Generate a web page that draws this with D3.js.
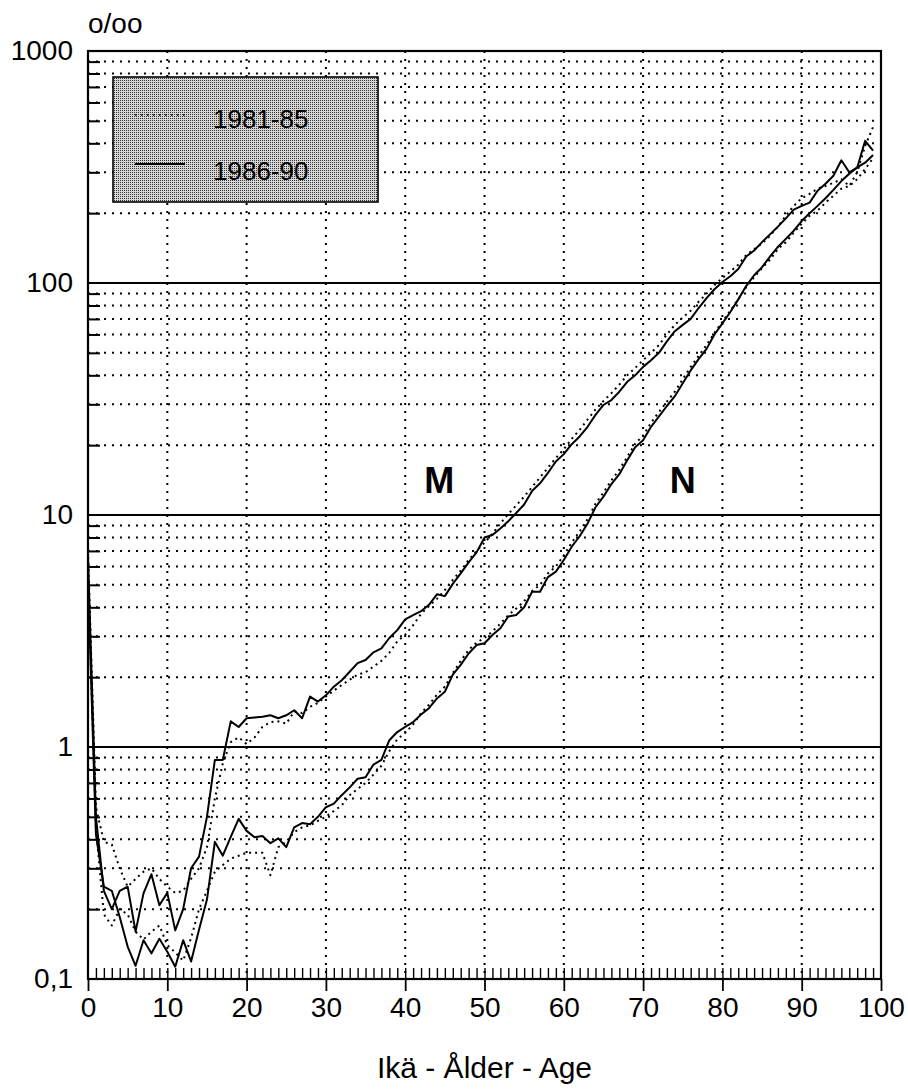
<!DOCTYPE html>
<html>
<head>
<meta charset="utf-8">
<script src="https://cdn.jsdelivr.net/npm/d3@7"></script>
<style>
  html, body { margin: 0; padding: 0; background: #fff; }
  svg { display: block; font-family: "Liberation Sans", Arial, Helvetica, sans-serif; }
</style>
</head>
<body>
<svg id="chart" width="908" height="1091"></svg>
<script>
// ---- data (per-mille mortality by age) ----
const ages = d3.range(0, 100);

const m8185 = [7.0,0.55,0.39,0.38,0.30,0.25,0.27,0.29,0.30,0.27,
  0.25,0.235,0.24,0.27,0.30,0.37,0.60,0.85,1.05,1.10,
  1.03,1.10,1.22,1.28,1.29,1.26,1.42,1.40,1.49,1.55,
  1.65,1.75,1.85,1.95,2.05,2.10,2.22,2.35,2.55,2.85,
  3.05,3.35,3.75,4.05,4.35,4.75,5.25,5.75,6.40,7.00,
  7.60,8.30,9.20,10.1,11.0,12.0,13.2,14.5,16.0,17.6,
  19.2,21.3,23.3,25.8,28.5,31.0,33.5,36.5,40.0,43.0,
  46.5,50.0,54.0,60.0,66.0,71.0,76.0,83.0,90.0,98.0,
  105,112,120,132,140,148,160,175,195,215,
  232,242,255,262,270,280,262,300,390,470];

const m8690 = [6.6,0.50,0.24,0.20,0.24,0.25,0.16,0.234,0.283,0.208,
  0.235,0.162,0.20,0.30,0.337,0.50,0.88,0.88,1.29,1.22,
  1.33,1.34,1.35,1.37,1.33,1.37,1.44,1.33,1.65,1.57,
  1.67,1.82,1.94,2.11,2.30,2.37,2.56,2.66,2.95,3.19,
  3.55,3.70,3.85,4.10,4.55,4.47,5.05,5.60,6.25,6.90,
  8.00,8.20,8.75,9.40,10.2,11.1,12.7,13.7,15.2,17.0,
  18.3,20.2,21.8,24.0,27.0,29.8,31.3,34.0,37.5,40.0,
  43.5,46.5,50.0,56.0,62.0,66.0,70.0,78.0,86.0,94.0,
  101,107,115,130,138,150,162,175,190,207,
  215,222,250,268,290,338,300,314,410,372];

const n8185 = [5.6,0.45,0.19,0.17,0.20,0.19,0.16,0.148,0.16,0.17,
  0.14,0.13,0.12,0.15,0.20,0.24,0.29,0.31,0.33,0.34,
  0.35,0.35,0.35,0.28,0.37,0.39,0.43,0.45,0.46,0.48,
  0.50,0.53,0.56,0.62,0.66,0.70,0.76,0.83,0.96,1.08,
  1.15,1.25,1.40,1.52,1.68,1.82,2.08,2.35,2.62,2.82,
  2.95,3.15,3.40,3.70,3.95,4.25,4.70,5.00,5.60,6.00,
  6.70,7.60,8.50,9.60,11.2,12.5,14.1,15.7,17.8,20.3,
  22.0,25.0,27.8,30.8,34.0,38.5,43.5,48.5,54.0,61.0,
  68.0,76.0,85.0,96.0,106,116,126,140,150,165,
  180,195,205,222,238,255,262,280,310,345];

const n8690 = [5.3,0.42,0.25,0.24,0.185,0.138,0.114,0.147,0.129,0.149,
  0.131,0.113,0.147,0.119,0.163,0.22,0.39,0.34,0.41,0.49,
  0.435,0.408,0.413,0.385,0.404,0.37,0.45,0.47,0.465,0.50,
  0.55,0.57,0.62,0.67,0.73,0.74,0.84,0.88,1.07,1.16,
  1.22,1.28,1.38,1.47,1.62,1.73,2.05,2.26,2.53,2.75,
  2.80,3.04,3.25,3.65,3.71,4.00,4.67,4.67,5.40,5.70,
  6.40,7.30,8.10,9.20,10.8,12.0,13.6,15.0,17.2,19.6,
  21.0,24.0,26.6,29.5,32.5,37.0,42.0,47.0,52.0,60.0,
  67.0,75.0,85.0,97.0,108,117,130,143,155,168,
  185,200,215,232,252,275,296,315,330,356];

const xTicks = [0,10,20,30,40,50,60,70,80,90,100];
const yMajor = [0.1,1,10,100,1000];
const yLabels = ["0,1","1","10","100","1000"];
const legendLabels = ["1981-85","1986-90"];
const sexLabels = [{t:"M", age:44.3, v:12.4},{t:"N", age:75.0, v:12.4}];

// ---- layout ----
const svg = d3.select("#chart");
const L = 88, R = 881, T = 51, B = 979;
const x = d3.scaleLinear().domain([0,100]).range([L,R]);
const y = d3.scaleLog().domain([0.1,1000]).range([B,T]);

const minorY = [];
[0.1,1,10,100].forEach(d => { for (let m=2;m<=9;m++) minorY.push(d*m); });

// dotted minor horizontal grid
svg.append("g").selectAll("line").data(minorY).join("line")
  .attr("x1", L).attr("x2", R)
  .attr("y1", d => y(d)).attr("y2", d => y(d))
  .attr("stroke", "#000").attr("stroke-width", 2)
  .attr("stroke-dasharray", "2,6");

// dotted vertical grid
svg.append("g").selectAll("line").data(xTicks.slice(1,-1)).join("line")
  .attr("x1", d => x(d)).attr("x2", d => x(d))
  .attr("y1", T).attr("y2", B)
  .attr("stroke", "#000").attr("stroke-width", 2)
  .attr("stroke-dasharray", "2,6");

// solid major horizontal lines
svg.append("g").selectAll("line").data([1,10,100]).join("line")
  .attr("x1", L).attr("x2", R)
  .attr("y1", d => y(d)).attr("y2", d => y(d))
  .attr("stroke", "#000").attr("stroke-width", 2.2);

// left minor ticks
const gMinorL = svg.append("g").attr("transform", `translate(${L},0)`)
  .call(d3.axisRight(y).tickValues(minorY).tickSize(12).tickFormat(""));
gMinorL.select(".domain").remove();
gMinorL.selectAll("line").attr("stroke-width", 2);

// bottom minor ticks (every year, upward)
const gMinorB = svg.append("g").attr("transform", `translate(0,${B})`)
  .call(d3.axisTop(x).tickValues(d3.range(1,100)).tickSize(11).tickFormat(""));
gMinorB.select(".domain").remove();
gMinorB.selectAll("line").attr("stroke-width", 1.4);

// bottom axis
const gX = svg.append("g").attr("transform", `translate(0,${B})`)
  .call(d3.axisBottom(x).tickValues(xTicks).tickSize(12).tickPadding(6).tickFormat(d3.format("d")));
gX.select(".domain").remove();
gX.selectAll("line").attr("stroke-width", 1.8);
gX.selectAll("text").attr("font-size", 28).attr("fill", "#000")
  .attr("font-family", "'Liberation Sans', Arial, sans-serif");

// left axis labels
const gY = svg.append("g").attr("transform", `translate(${L},0)`)
  .call(d3.axisLeft(y).tickValues(yMajor).tickSize(0).tickPadding(15)
    .tickFormat((d,i) => yLabels[i]));
gY.select(".domain").remove();
gY.selectAll("text").attr("font-size", 28).attr("fill", "#000")
  .attr("font-family", "'Liberation Sans', Arial, sans-serif");

// frame
svg.append("rect").attr("x", L).attr("y", T).attr("width", R-L).attr("height", B-T)
  .attr("fill", "none").attr("stroke", "#000").attr("stroke-width", 2.2);

// data lines
const line = d3.line().x((d,i) => x(ages[i])).y(d => y(d));
const series = [
  {v:m8185, dotted:true}, {v:n8185, dotted:true},
  {v:m8690, dotted:false}, {v:n8690, dotted:false}
];
svg.append("g").selectAll("path").data(series).join("path")
  .attr("d", d => line(d.v))
  .attr("fill", "none").attr("stroke", "#000")
  .attr("stroke-width", d => d.dotted ? 2 : 2)
  .attr("stroke-dasharray", d => d.dotted ? "2,4" : null)
  .attr("stroke-linejoin", "round");

// M / N labels
svg.append("g").selectAll("text").data(sexLabels).join("text")
  .attr("x", d => x(d.age)).attr("y", d => y(d.v))
  .attr("text-anchor", "middle").attr("font-size", 36).attr("font-weight", "bold")
  .text(d => d.t);

// legend
const defs = svg.append("defs");
const pat = defs.append("pattern").attr("id", "stip").attr("patternUnits", "userSpaceOnUse")
  .attr("width", 2).attr("height", 2);
pat.append("rect").attr("width", 2).attr("height", 2).attr("fill", "#d6d6d6");
pat.append("rect").attr("width", 1).attr("height", 1).attr("fill", "#333");

const lg = svg.append("g");
lg.append("rect").attr("x", 113).attr("y", 77).attr("width", 265).attr("height", 125)
  .attr("fill", "url(#stip)").attr("stroke", "#000").attr("stroke-width", 1.6);
const legendRows = [{y:115, ty:128, dotted:true}, {y:164, ty:180, dotted:false}];
legendRows.forEach((r, i) => {
  lg.append("line").attr("x1", 135).attr("x2", 185).attr("y1", r.y).attr("y2", r.y)
    .attr("stroke", "#000").attr("stroke-width", r.dotted ? 1.4 : 1.8)
    .attr("stroke-dasharray", r.dotted ? "1.5,4.5" : null);
  lg.append("text").attr("x", 213).attr("y", r.ty).attr("font-size", 26)
    .text(legendLabels[i]);
});

// unit label and axis title
svg.append("text").attr("x", 88).attr("y", 33).attr("font-size", 28).text("o/oo");
svg.append("text").attr("x", (L+R)/2).attr("y", 1078).attr("text-anchor", "middle")
  .attr("font-size", 30).text("Ikä - Ålder - Age");
</script>
</body>
</html>
